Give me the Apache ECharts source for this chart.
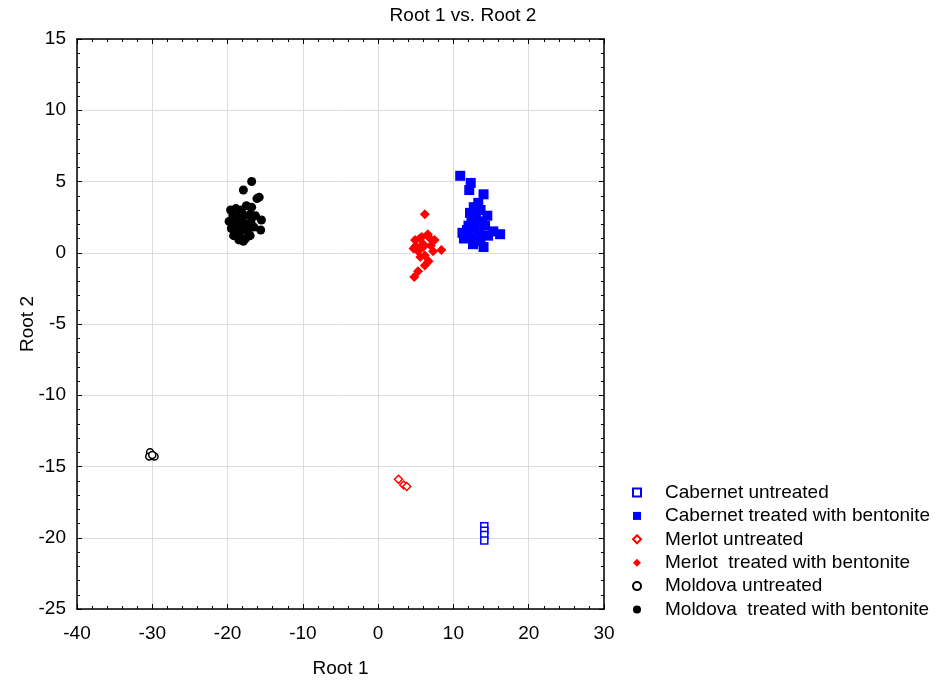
<!DOCTYPE html>
<html>
<head>
<meta charset="utf-8">
<script src="https://cdn.jsdelivr.net/npm/echarts@6/dist/echarts.min.js"></script>
<style>html,body{margin:0;padding:0;background:#fff;}#c{width:941px;height:681px;}</style>
</head>
<body>
<div id="c"></div>
<script>
const seriesNames = [
  'Cabernet untreated',
  'Cabernet treated with bentonite',
  'Merlot untreated',
  'Merlot  treated with bentonite',
  'Moldova untreated',
  'Moldova  treated with bentonite'
];
const cabernetUntreated = [[14.1,-19.2],[14.1,-19.5],[14.1,-19.8],[14.1,-20.2]];
const cabernetTreated = [[10.9,5.4],[12.3,4.9],[12.1,4.4],[14.0,4.1],[13.3,3.5],[12.7,3.2],[13.6,3.0],[12.2,2.8],[14.5,2.6],[13.0,2.5],[12.4,2.2],[13.8,2.2],[14.2,1.9],[12.0,1.9],[11.8,1.6],[12.8,1.8],[13.4,1.5],[15.3,1.5],[16.2,1.3],[11.2,1.4],[11.4,1.0],[12.3,1.1],[13.0,0.8],[14.0,0.4],[13.6,1.0],[12.6,0.6],[14.6,1.2],[12.9,2.9]];
const merlotUntreated = [[2.7,-15.9],[3.4,-16.3],[3.8,-16.4]];
const merlotTreated = [[6.2,2.7],[6.6,1.3],[7.5,0.9],[8.4,0.2],[4.9,0.9],[5.5,1.0],[6.0,0.6],[4.7,0.3],[5.3,0.1],[6.0,0.4],[7.3,0.1],[5.6,-0.3],[6.2,-0.2],[6.7,-0.6],[6.2,-0.9],[5.3,-1.3],[4.8,-1.7],[7.0,0.5],[5.8,1.1],[6.9,1.0],[5.0,0.5]];
const moldovaUntreated = [[-30.3,-14.0],[-29.7,-14.3],[-30.4,-14.3],[-30.0,-14.2]];
const moldovaTreated = [[-16.8,5.0],[-17.9,4.4],[-15.8,3.9],[-16.8,3.2],[-16.1,3.8],[-19.6,3.0],[-18.9,3.1],[-18.2,3.0],[-17.5,3.3],[-19.3,2.6],[-18.6,2.5],[-17.8,2.6],[-17.0,2.7],[-16.3,2.6],[-19.8,2.2],[-19.0,2.0],[-18.3,2.1],[-17.6,2.0],[-16.9,2.2],[-15.5,2.3],[-19.5,1.7],[-18.7,1.5],[-18.0,1.6],[-17.3,1.5],[-16.5,1.8],[-15.6,1.6],[-19.2,1.2],[-18.4,1.1],[-17.6,1.0],[-17.9,0.8],[-18.1,2.8],[-17.2,1.8],[-18.8,1.9],[-19.1,2.4],[-17.0,1.2],[-18.5,0.9]];
const xMin = -40, xMax = 30, xStep = 10;
const yMin = -25, yMax = 15, yStep = 5;

const FONT = 'Liberation Sans, Arial, sans-serif';
const FS = 19;
const chart = echarts.init(document.getElementById('c'), null, {renderer: 'canvas'});
const axisCommon = {
  axisLine: {show: true, onZero: false, lineStyle: {color: '#000', width: 1.5}},
  axisTick: {show: true, inside: true, length: 5, lineStyle: {color: '#000', width: 1}},
  minorTick: {show: true, splitNumber: 5, length: 3, lineStyle: {color: '#000', width: 1}},
  nameMoveOverlap: false
};
function mkX(pos, labels) {
  return Object.assign({}, axisCommon, {
    type: 'value', position: pos, min: xMin, max: xMax, interval: xStep,
    axisLabel: {show: labels, color: '#000', fontSize: FS, fontFamily: FONT, margin: 15},
    splitLine: {show: labels, lineStyle: {color: '#dcdcdc', width: 1}},
    name: labels ? 'Root 1' : '', nameLocation: 'middle', nameGap: 50,
    nameTextStyle: {color: '#000', fontSize: FS, fontFamily: FONT}
  });
}
function mkY(pos, labels) {
  return Object.assign({}, axisCommon, {
    type: 'value', position: pos, min: yMin, max: yMax, interval: yStep,
    axisLabel: {show: labels, color: '#000', fontSize: FS, fontFamily: FONT, margin: 11},
    splitLine: {show: labels, lineStyle: {color: '#dcdcdc', width: 1}},
    name: labels ? 'Root 2' : '', nameLocation: 'middle', nameGap: 40,
    nameTextStyle: {color: '#000', fontSize: FS, fontFamily: FONT}
  });
}
const base = {type: 'scatter'};
chart.setOption({
  animation: false,
  backgroundColor: '#fff',
  title: {text: 'Root 1 vs. Root 2', left: 458, top: 1, textAlign: 'center',
    textStyle: {color: '#000', fontSize: 19, fontWeight: 'normal', fontFamily: FONT}},
  grid: {left: 77, right: 337, top: 39, bottom: 72, outerBoundsMode: 'none', containLabel: false},
  xAxis: [mkX('bottom', true), mkX('top', false)],
  yAxis: [mkY('left', true), mkY('right', false)],
  legend: {
    orient: 'vertical', left: 627, top: 478, itemWidth: 8, itemHeight: 8, itemGap: 4.4,
    formatter: function (n) { return '{s|}' + n; },
    textStyle: {color: '#000', fontSize: FS, fontFamily: FONT,
      rich: {s: {width: 19}}},
    data: seriesNames
  },
  series: [
    Object.assign({}, base, {name: seriesNames[0], data: cabernetUntreated, symbol: 'rect', symbolSize: 7,
      itemStyle: {color: '#fff', borderColor: '#0000ff', borderWidth: 1.5, opacity: 1}}),
    Object.assign({}, base, {name: seriesNames[1], data: cabernetTreated, symbol: 'rect', symbolSize: 10,
      itemStyle: {color: '#0000ff', opacity: 1}}),
    Object.assign({}, base, {name: seriesNames[2], data: merlotUntreated, symbol: 'diamond', symbolSize: 8,
      itemStyle: {color: '#fff', borderColor: '#ff0000', borderWidth: 1.5, opacity: 1}}),
    Object.assign({}, base, {name: seriesNames[3], data: merlotTreated, symbol: 'diamond', symbolSize: 10,
      itemStyle: {color: '#ff0000', opacity: 1}}),
    Object.assign({}, base, {name: seriesNames[4], data: moldovaUntreated, symbol: 'circle', symbolSize: 7,
      itemStyle: {color: '#fff', borderColor: '#000', borderWidth: 1.5, opacity: 1}}),
    Object.assign({}, base, {name: seriesNames[5], data: moldovaTreated, symbol: 'circle', symbolSize: 9,
      itemStyle: {color: '#000', opacity: 1}})
  ]
});
</script>
</body>
</html>
